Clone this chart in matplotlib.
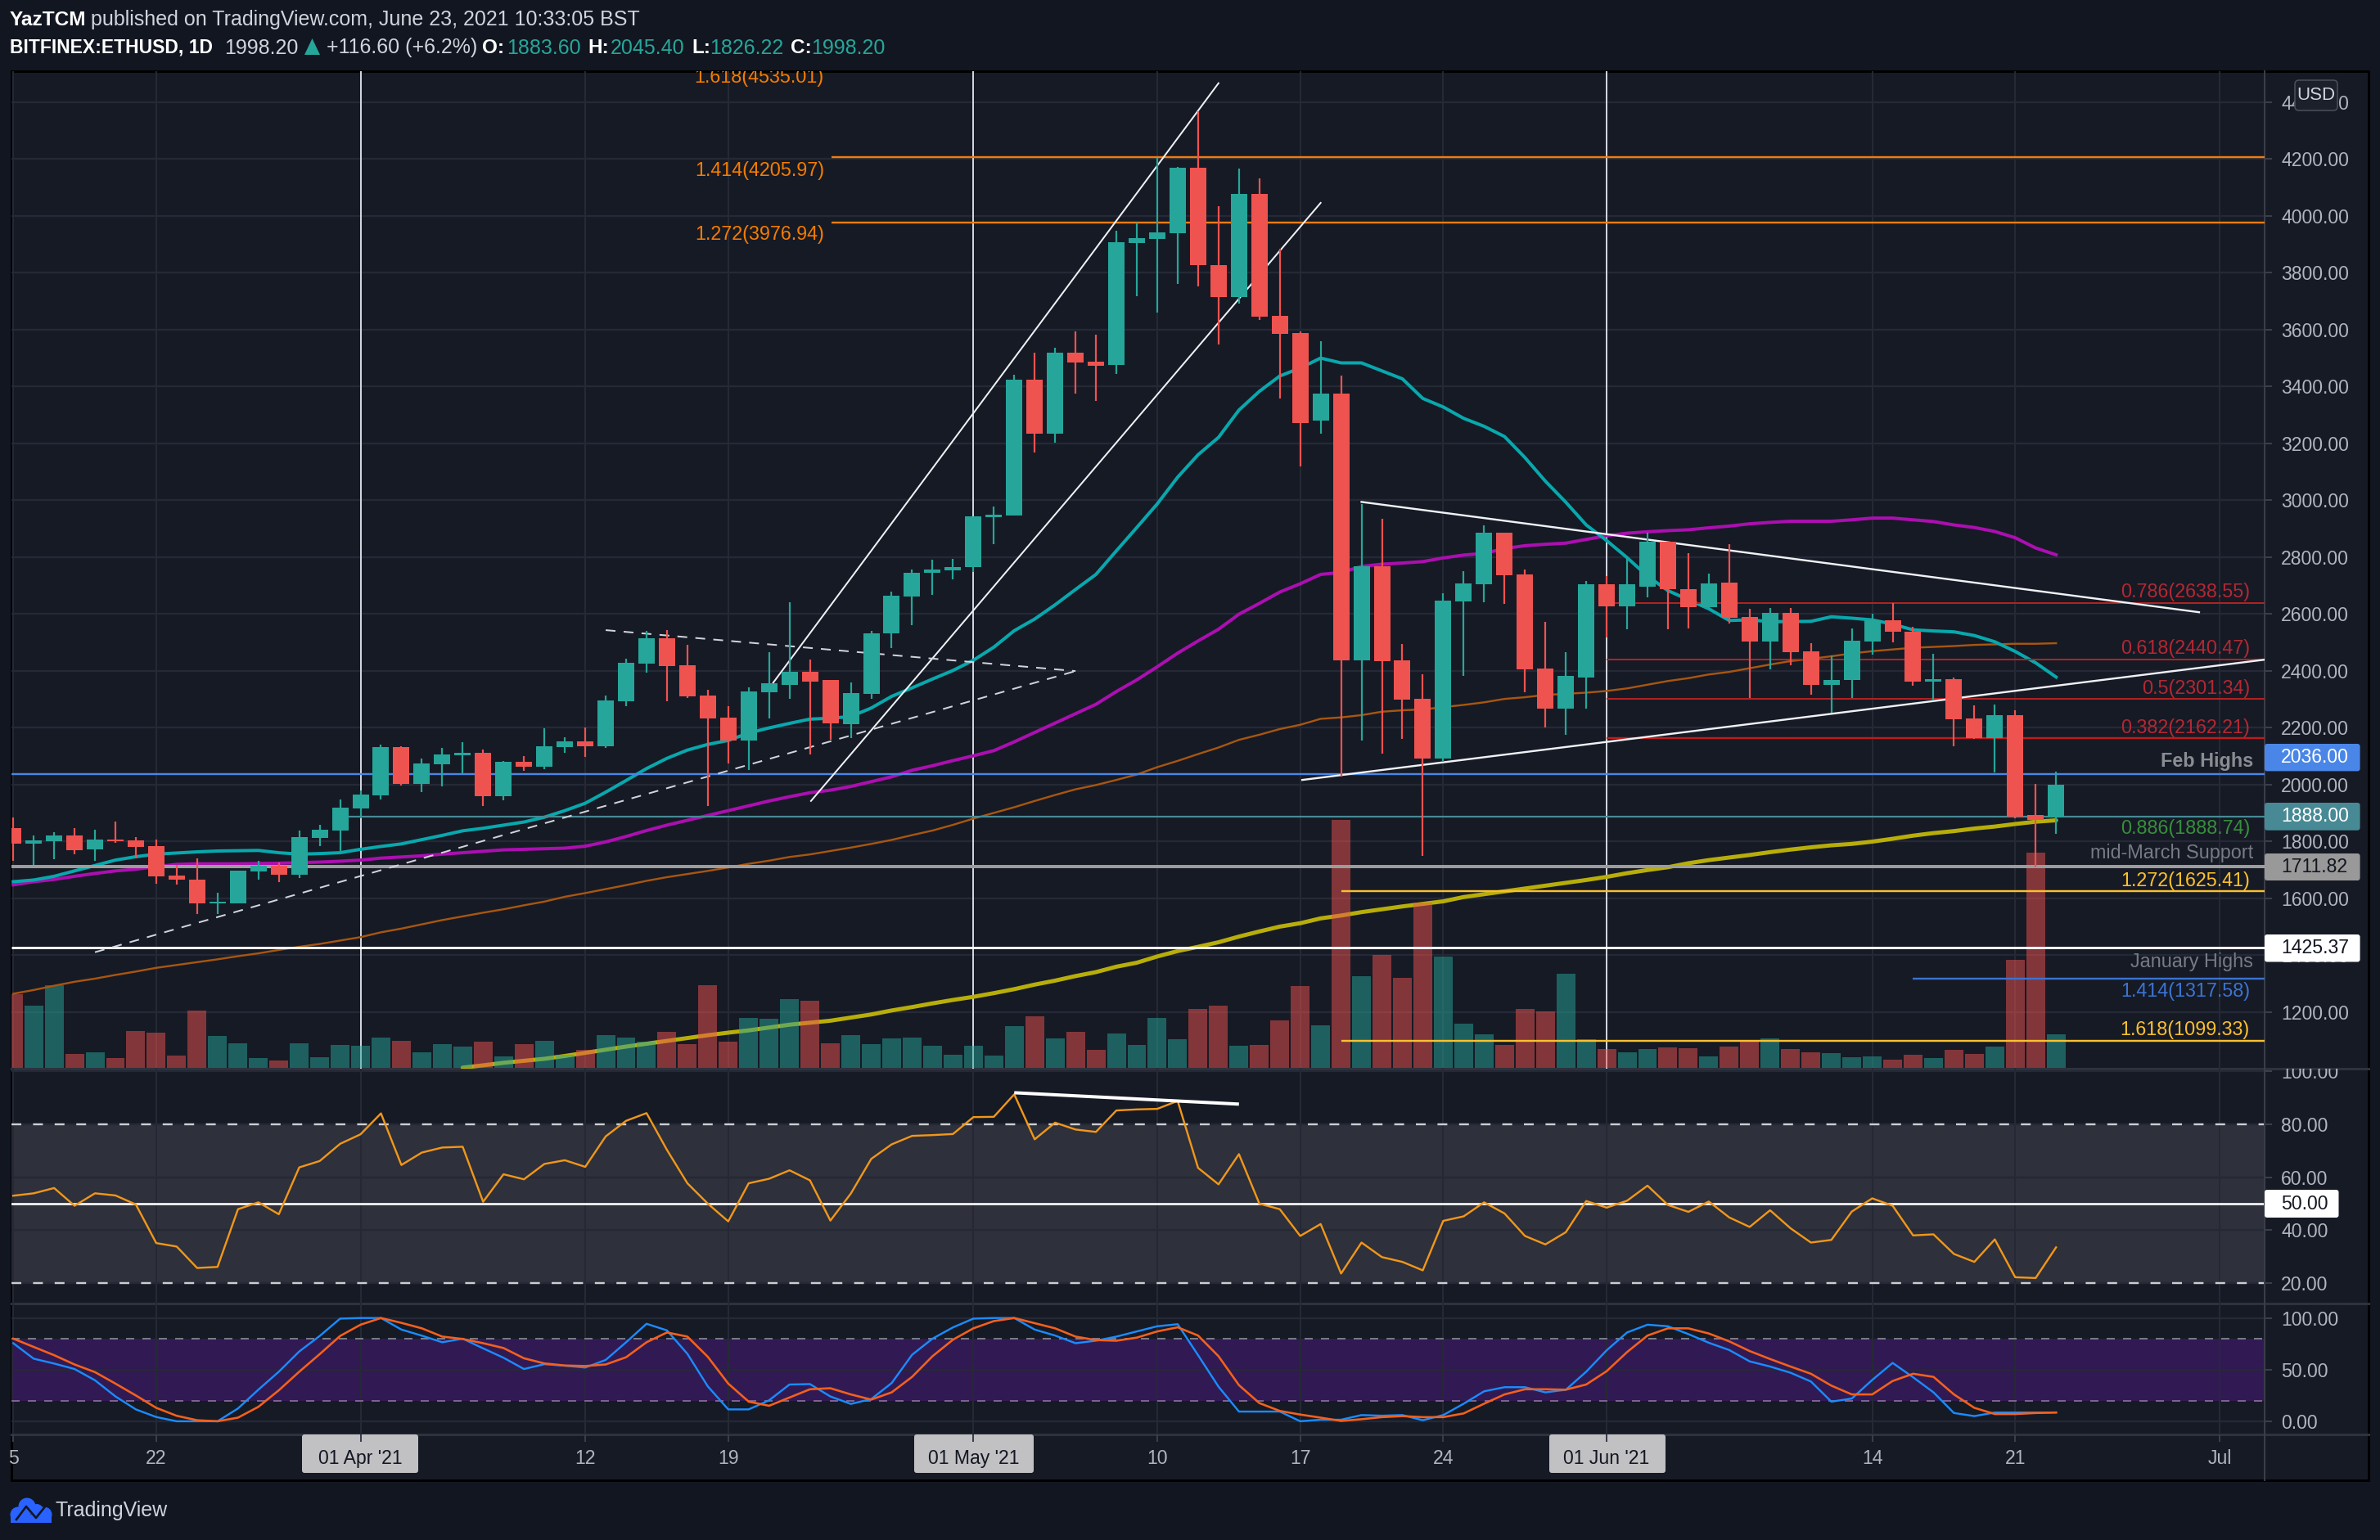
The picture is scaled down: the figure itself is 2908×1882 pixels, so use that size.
import matplotlib
matplotlib.use("Agg")
import matplotlib.pyplot as plt
from matplotlib.patches import Rectangle, FancyBboxPatch, Circle, Polygon
from matplotlib.lines import Line2D
from matplotlib.transforms import Affine2D, Bbox

plt.rcParams['font.family'] = ['Liberation Sans', 'DejaVu Sans']

# ---------- data, one entry per daily candle from 15 Mar 2021 ----------
opens = [1847,1793,1800,1821,1772,1807,1804,1783,1680,1666,1581,1582,1694,1713,1683,1813,1838,1916,1962,2131,
         2002,2071,2103,2112,1959,2080,2063,2131,2151,2134,2292,2424,2514,2418,2313,2234,2155,2324,2350,2396,
         2367,2212,2318,2531,2660,2744,2752,2764,2939,2945,3424,3234,3520,3488,3477,3904,3919,3939,4170,3827,
         3714,4077,3648,3589,3279,3376,2436,2769,2436,2301,2092,2644,2704,2885,2739,2407,2266,2375,2704,2628,
         2697,2853,2686,2623,2709,2588,2502,2605,2468,2350,2368,2502,2577,2538,2361,2370,2232,2164,2243,1893,1883.6]
highs = [1885,1821,1832,1846,1840,1869,1814,1806,1717,1740,1618,1697,1732,1726,1838,1857,1947,1980,2140,2134,
         2091,2129,2148,2124,2082,2099,2197,2166,2200,2313,2441,2541,2542,2490,2332,2275,2343,2465,2640,2439,
         2367,2358,2541,2678,2757,2792,2795,2942,2978,3440,3520,3536,3594,3581,3949,3977,4203,4173,4369,4034,
         4166,4132,3884,3594,3559,3439,2987,2936,2493,2387,2672,2749,2913,2887,2755,2572,2465,2715,2733,2798,
         2887,2855,2813,2741,2844,2617,2620,2620,2496,2454,2549,2600,2637,2554,2459,2377,2278,2280,2261,2002,2045.4]
lows = [1732,1717,1738,1755,1730,1794,1741,1652,1647,1543,1544,1582,1664,1658,1672,1783,1766,1880,1946,1996,
        1973,1993,2037,1925,1944,2048,2054,2112,2097,2130,2275,2394,2292,2304,1923,2075,2052,2232,2301,2107,
        2157,2164,2301,2479,2561,2668,2723,2747,2846,2945,3168,3201,3374,3350,3445,3718,3660,3761,3751,3548,
        3691,3634,3358,3119,3234,2028,2155,2108,2160,1749,2079,2382,2640,2635,2323,2201,2174,2266,2518,2545,
        2658,2545,2549,2618,2567,2304,2405,2419,2315,2252,2304,2456,2500,2347,2297,2134,2160,2042,1880,1707,1826.22]
closes = [1792,1804,1821,1770,1807,1800,1781,1677,1666,1582,1588,1697,1713,1683,1815,1841,1918,1965,2131,2002,
          2074,2106,2112,1959,2080,2063,2134,2151,2134,2295,2428,2514,2416,2309,2232,2155,2326,2356,2396,2362,
          2215,2321,2533,2663,2746,2756,2766,2942,2949,3424,3234,3520,3485,3473,3907,3922,3942,4170,3827,3714,
          4077,3647,3586,3272,3376,2436,2769,2433,2298,2092,2646,2706,2885,2735,2405,2266,2382,2704,2626,2704,
          2853,2686,2623,2706,2586,2502,2605,2465,2350,2368,2505,2579,2537,2361,2370,2229,2162,2243,1887,1876,1998.2]
volumes = [90,76,101,17,19,12,45,43,15,70,39,30,12,9,30,13,28,27,37,33,19,29,26,32,14,29,33,16,22,40,37,32,44,29,
           101,32,61,60,84,82,30,40,29,36,37,27,16,27,15,51,63,36,44,22,42,28,61,35,72,76,27,28,58,100,52,303,
           112,138,110,202,136,54,41,28,72,69,115,35,23,19,23,25,24,14,26,33,36,23,19,18,13,14,10,16,12,22,17,26,132,263,41]
ma20 = [1658,1664,1677,1696,1715,1734,1746,1755,1759,1763,1766,1767,1768,1760,1755,1757,1760,1772,1782,1791,
        1806,1821,1837,1846,1857,1868,1885,1908,1934,1973,2014,2056,2092,2121,2141,2155,2181,2199,2215,2230,
        2233,2239,2269,2310,2340,2371,2401,2437,2483,2541,2582,2632,2686,2739,2822,2904,2987,3081,3160,3221,
        3317,3383,3437,3465,3500,3483,3483,3455,3427,3358,3328,3288,3260,3224,3150,3067,2993,2913,2858,2798,
        2733,2682,2650,2618,2577,2579,2573,2573,2574,2590,2585,2579,2564,2544,2540,2537,2524,2502,2468,2428,2378]
ma50 = [1647,1658,1666,1677,1687,1696,1702,1711,1719,1721,1721,1721,1722,1723,1725,1727,1730,1734,1741,1745,
        1749,1755,1760,1765,1770,1772,1774,1776,1783,1798,1817,1838,1857,1874,1891,1908,1925,1942,1957,1971,
        1980,1993,2010,2027,2050,2066,2084,2101,2119,2150,2183,2216,2249,2282,2327,2368,2414,2462,2505,2546,
        2599,2637,2677,2706,2739,2746,2767,2775,2779,2784,2797,2807,2813,2830,2840,2845,2849,2862,2875,2884,
        2889,2893,2896,2903,2909,2917,2922,2926,2926,2926,2931,2937,2937,2931,2925,2913,2904,2890,2868,2832,2808]
ma100 = [1264,1277,1292,1306,1317,1330,1342,1355,1365,1375,1385,1396,1406,1418,1429,1439,1451,1463,1480,1493,
         1508,1523,1536,1549,1561,1575,1588,1605,1618,1632,1646,1661,1674,1685,1696,1708,1721,1732,1745,1754,
         1766,1778,1791,1805,1822,1838,1858,1880,1900,1920,1942,1963,1983,1998,2016,2035,2061,2083,2107,2130,
         2157,2175,2195,2210,2231,2236,2244,2256,2261,2264,2272,2280,2289,2301,2307,2315,2319,2323,2329,2338,
         2351,2364,2374,2387,2396,2409,2422,2434,2442,2451,2461,2469,2475,2481,2484,2487,2491,2493,2495,2495,2497]
ma200_days = list(range(22, 101))
ma200 = [1004,1012,1021,1028,1035,1045,1056,1067,1078,1088,1098,1108,1118,1127,1135,1145,1155,1162,
         1169,1180,1191,1205,1217,1230,1242,1253,1266,1280,1296,1310,1326,1340,1359,1373,1395,1414,1429,1445,
         1465,1483,1500,1512,1529,1539,1551,1561,1571,1580,1589,1604,1614,1624,1634,1644,1654,1664,1675,1688,
         1699,1709,1723,1734,1743,1752,1762,1771,1779,1786,1791,1799,1809,1820,1829,1836,1845,1852,1861,1869,1874]
rsi = [53,53.9,55.9,49.2,53.9,53.1,49.7,35.1,33.8,25.7,26.1,47.9,50.5,46,63.7,66.1,72.6,76.2,84.1,64.6,
       69.3,71.2,71.5,50.7,61.1,59.2,65,66.4,63.9,75.4,81.3,84.2,70.3,57.7,50,43.3,57.7,59.4,62.6,58.8,
       43.6,53.8,66.9,72.4,75.6,75.9,76.3,82.7,82.8,91.3,74.3,80.6,78,77.1,85.2,85.6,85.8,88.8,63.5,57.3,
       68.7,50,47.9,37.8,42.3,23.6,35.3,29.8,28,24.8,43.5,45.2,50.5,46.3,37.8,34.6,39.2,51,48.5,51.1,
       56.8,49.5,46.9,50.8,44.8,41.2,47.5,40.7,35.3,36.3,47,52,49.2,38,38.4,31,28,36.5,22.2,21.9,33.5]
stoch_k = [75.6,60.6,55.9,50.6,39.7,24.1,11.5,4.1,0,0,0,12.4,30.6,48,67.6,82.6,99.4,100,100,88.8,
           82.9,76.5,80,70.6,61.5,50.6,55.3,53.8,52,59.4,76.5,94.4,88,65.3,33.8,11.5,11.5,20.3,35.6,36,
           24,16.8,21.5,37,64.4,80,90.9,99.4,100,100,88.8,83,75.6,78,82,87,92,94,64,33.5,
           9.4,9.4,9.4,0,1.5,1.5,6,5.4,6,1,6,17,29,33,33,28,30.5,48,68.7,86,
           93.5,92,84.4,76,69,58,53,47,38.5,19,22,40,56.5,42.6,28,8,5,8.5,8.5,8.5,8.5]
stoch_d = [80,72,64,55,47.6,36.5,25,13,5.3,1,0,3.5,14,30,48,65,82.6,93.5,100,95.3,
           90,82,79.7,75.6,70.9,61,56,54,53.5,55,62,76.5,86,82,62.4,36.5,19,15,23,31,
           32,26,21,28,43,63,79,90,97,100,95,90,82,78.6,78,81,87,91,83,63,
           35,17.6,10,6.5,3.5,0.3,2,4,5,4,4,7.6,17,26,31,31,30.6,35.6,48.5,67,
           83,90,90,85,77.4,68,60.3,53,46,34.5,26,26,39,46,43,26,13,7,7,8,8.5]
price_ticks = [1200,1400,1600,1800,2000,2200,2400,2600,2800,3000,3200,3400,3600,3800,4000,4200,4400]
rsi_ticks = [20,40,60,80,100]
stoch_ticks = [0,50,100]
date_days = [0,7,17,28,35,47,56,63,70,78,91,98,108]
date_labels = ['5','22',"01 Apr '21",'12','19',"01 May '21",'10','17','24',"01 Jun '21",'14','21','Jul']

# ---------- layout ----------
W, H = 2908, 1882
pxT = Affine2D().scale(1, -1).translate(0, H)
OUTER, PANE = '#121620', '#161a25'
GRID = '#252935'
TICKC = '#b2b5be'
L, R = 14, 2767
T_MAIN, B_MAIN, B_RSI, B_ST, B_TIME, R_FRAME = 87, 1306, 1593, 1753, 1808.5, 2894
DAY0, PXDAY = 16.2, 24.96
P_Y2000, P_SCALE = 958.7, 0.3474
xlim = ((L - DAY0) / PXDAY, (R - DAY0) / PXDAY)

fig = plt.figure(figsize=(W / 100, H / 100), dpi=100, facecolor=OUTER)

def make_axes(top, bottom, z):
    a = fig.add_axes([L / W, 1 - bottom / H, (R - L) / W, (bottom - top) / H])
    a.set_xlim(xlim)
    a.set_zorder(z)
    a.patch.set_visible(False)
    return a

def pt(px):
    return px * 0.72

def price_at(y):
    return 2000 + (P_Y2000 - y) / P_SCALE

fig.add_artist(Rectangle((L, T_MAIN), R_FRAME - L, B_TIME - T_MAIN, transform=pxT, facecolor=PANE,
                         edgecolor='#000000', linewidth=pt(3), zorder=-5))

def style_y(a, ticks, labels):
    a.yaxis.tick_right()
    a.set_yticks(ticks)
    a.set_yticklabels(labels)
    a.tick_params(axis='y', length=pt(9), width=pt(2), color='#3a3e4a', pad=pt(11),
                  labelcolor=TICKC, labelsize=16.6)
    a.grid(axis='y', color=GRID, linewidth=pt(2.4), zorder=0)
    a.grid(axis='x', color=GRID, linewidth=pt(2), zorder=0)
    a.set_axisbelow(True)
    for s in a.spines.values():
        s.set_visible(False)
    a.spines['right'].set_visible(True)
    a.spines['right'].set_color('#3a3e4a')
    a.spines['right'].set_linewidth(pt(2))

# ---------- main pane, back layer ----------
ax = make_axes(T_MAIN, B_MAIN, 1)
ax.set_ylim(price_at(B_MAIN), price_at(T_MAIN))
style_y(ax, price_ticks, [f'{p:.2f}' for p in price_ticks])
ax.set_xticks(date_days)
ax.tick_params(axis='x', length=0, labelbottom=False)
ax.plot(ma200_days, ma200, color='#b8ae0a', lw=pt(5), zorder=3, solid_capstyle='round')
for d in (17, 47, 78):
    ax.axvline(d, color='#d1d4dc', lw=pt(2), zorder=2)

# ---------- volume layer ----------
axv = make_axes(T_MAIN, B_MAIN, 2)
axv.set_ylim(-1, B_MAIN - T_MAIN - 1)
axv.axis('off')
days = list(range(len(closes)))
UP, DOWN = '#26a69a', '#ef5350'
cols = [UP if c >= o else DOWN for o, c in zip(opens, closes)]
axv.bar(days, volumes, width=0.92, color=cols, alpha=0.5, linewidth=0)

# ---------- main pane, front layer ----------
axp = make_axes(T_MAIN, B_MAIN, 3)
axp.set_ylim(ax.get_ylim())
axp.axis('off')
axp.plot(days, ma100, color='#a8560f', lw=pt(2.4), zorder=2)
axp.plot(days, ma50, color='#ab0fb0', lw=pt(4), zorder=2.2)
axp.plot(days, ma20, color='#08a8ad', lw=pt(4), zorder=2.4)

def hline(level, start, color, px):
    axp.plot([start, xlim[1]], [level, level], color=color, lw=pt(px), zorder=2.6, solid_capstyle='butt')

hline(4205.97, 40.05, '#ef7c10', 2.4)
hline(3976.94, 40.05, '#ef7c10', 2.4)
hline(2638.55, 78, '#b22222', 2)
hline(2440.47, 78, '#b22222', 2)
hline(2301.34, 78, '#b22222', 2)
hline(2162.21, 78, '#c01b1b', 2.4)
hline(2036, xlim[0], '#4a86e8', 2.4)
hline(1888, 16.4, '#478a95', 2.2)
hline(1711.82, xlim[0], '#9c9c9c', 4)
hline(1625.41, 65, '#fbc02d', 2.4)
hline(1425.37, xlim[0], '#ffffff', 2.8)
hline(1317.58, 93, '#3a74d0', 2.4)
hline(1099.33, 65, '#fbc02d', 2.4)

WHITE = '#f0f2f5'
axp.plot([37.2, 59.0], [2358, 4467], color=WHITE, lw=pt(2), zorder=2.8)
axp.plot([39.05, 64.0], [1942, 4046], color=WHITE, lw=pt(2), zorder=2.8)
axp.plot([66.0, 107.0], [2994, 2606], color=WHITE, lw=pt(2.4), zorder=2.8)
axp.plot([63.1, 110.2], [2016, 2439], color=WHITE, lw=pt(2.4), zorder=2.8)
axp.plot([29, 52], [2543, 2399], color='#d1d4dc', lw=pt(2), ls=(0, (6, 5)), zorder=2.8)
axp.plot([4, 52], [1410, 2399], color='#d1d4dc', lw=pt(2), ls=(0, (6, 5)), zorder=2.8)

axp.vlines(days, lows, highs, colors=cols, linewidth=pt(2.2), zorder=4)
axp.bar(days, [abs(c - o) for o, c in zip(opens, closes)], bottom=[min(o, c) for o, c in zip(opens, closes)],
        width=0.8, color=cols, linewidth=0, zorder=5)

# ---------- RSI pane ----------
RSI80, RSI_SCALE = 1373.9, 3.235
axr = make_axes(B_MAIN, B_RSI, 2)
axr.set_ylim(80 - (B_RSI - RSI80) / RSI_SCALE, 80 + (RSI80 - B_MAIN) / RSI_SCALE)
style_y(axr, rsi_ticks, [f'{v:.2f}' for v in rsi_ticks])
axr.set_xticks(date_days)
axr.tick_params(axis='x', length=0, labelbottom=False)
clip = Bbox.from_extents(R, H - B_RSI, W, H - B_MAIN)
for lab in axr.get_yticklabels():
    lab.set_clip_on(True)
    lab.set_clip_box(clip)
axr.axhspan(20, 80, color='#2e303b', zorder=0.4, linewidth=0)
for v in (20, 80):
    axr.axhline(v, color='#cdced2', lw=pt(2.4), ls=(0, (5, 6)), zorder=2)
axr.axhline(50, color='#ffffff', lw=pt(2.6), zorder=2)
axr.plot(days, rsi, color='#f0971a', lw=pt(2.4), zorder=3)
axr.plot([49, 60], [91.9, 87.6], color='#ffffff', lw=pt(4), zorder=4, solid_capstyle='butt')

# ---------- Stochastic pane ----------
ST0, ST_SCALE = 1736.9, 1.262
axs = make_axes(B_RSI, B_ST, 2)
axs.set_ylim((ST0 - B_ST) / ST_SCALE, (ST0 - B_RSI) / ST_SCALE)
style_y(axs, stoch_ticks, [f'{v:.2f}' for v in stoch_ticks])
axs.axhspan(20, 80, color='#311a54', zorder=0.4, linewidth=0)
axs.axhline(80, color='#787b86', lw=pt(2), ls=(0, (5, 5)), zorder=2)
axs.axhline(20, color='#7d5f92', lw=pt(2), ls=(0, (5, 5)), zorder=2)
axs.plot(days, stoch_k, color='#1a8cff', lw=pt(2.4), zorder=3)
axs.plot(days, stoch_d, color='#f5601c', lw=pt(2.6), zorder=3.2)
axs.set_xticks(date_days)
axs.set_xticklabels(date_labels)
axs.tick_params(axis='x', length=pt(9), width=pt(2), color='#3a3e4a', pad=pt(9), labelcolor=TICKC, labelsize=16.6)
for lab, t, tick in zip(axs.get_xticklabels(), date_labels, axs.xaxis.get_major_ticks()):
    if t.startswith('01'):
        lab.set_color('#131722')
        tick.tick1line.set_color('#000000')

# date label boxes, below the axis (tick labels) of the stochastic pane
for x0, x1 in ((369, 511), (1117, 1263), (1893, 2035)):
    p = FancyBboxPatch((x0 + 3, B_ST + 3), x1 - x0 - 6, 41, boxstyle='round,pad=3,rounding_size=3',
                       facecolor='#c1c1c3', edgecolor='none', zorder=0.2, clip_on=False)
    axs.add_patch(p)
    p.set_transform(pxT)

# separators between panes
for y in (B_MAIN, B_RSI, B_ST):
    fig.add_artist(Line2D([L, R_FRAME], [y, y], transform=pxT, color='#2e323d', lw=pt(3), zorder=1))
fig.add_artist(Line2D([R, R], [B_ST, B_TIME], transform=pxT, color='#3a3e4a', lw=pt(2), zorder=1))

# ---------- overlay helpers ----------
def box(x0, y0, x1, y1, color, z=1.5):
    fig.add_artist(FancyBboxPatch((x0 + 3, y0 + 3), x1 - x0 - 6, y1 - y0 - 6, boxstyle='round,pad=3,rounding_size=3',
                                  transform=pxT, facecolor=color, edgecolor='none', zorder=z))

def label(x, y, s, color, size=16.8, ha='left', weight='normal', z=7):
    return fig.text(x, y, s, transform=pxT, color=color, fontsize=size, ha=ha, va='center',
                    fontweight=weight, zorder=z)

# price-scale boxes
for y0, y1, col, txt, tc in ((909, 942.4, '#4a86e8', '2036.00', '#ffffff'),
                             (981, 1014.7, '#478a95', '1888.00', '#ffffff'),
                             (1043, 1076, '#999999', '1711.82', '#131722'),
                             (1142, 1175.5, '#ffffff', '1425.37', '#131722')):
    box(R, y0, 2883.6, y1, col, z=6)
    label(2787, (y0 + y1) / 2, txt, tc, size=16.6)
box(R, 1454, 2857.5, 1488, '#ffffff', z=6)
label(2787, 1471, '50.00', '#131722', size=16.6)

# USD tag
fig.add_artist(FancyBboxPatch((2807, 101), 46, 31, boxstyle='round,pad=3,rounding_size=5', transform=pxT,
                              facecolor='#1c202b', edgecolor='#4a4e59', lw=pt(1.6), zorder=6))
label(2830, 117, 'USD', '#d1d4dc', size=16, ha='center')

# fib labels, right
for y, s, c in ((723.7, '0.786(2638.55)', '#b22833'), (792, '0.618(2440.47)', '#b22833'),
                (841.5, '0.5(2301.34)', '#b22833'), (889.7, '0.382(2162.21)', '#b22833'),
                (1012.5, '0.886(1888.74)', '#388e3c'), (1076.3, '1.272(1625.41)', '#fbc02d'),
                (1211.6, '1.414(1317.58)', '#3a74d0'), (1258, '1.618(1099.33)', '#fbc02d')):
    label(2749, y, s, c, ha='right')
label(2753, 930.8, 'Feb Highs', '#8a8c92', ha='right', weight='bold')
label(2753, 1042.9, 'mid-March Support', '#787b86', ha='right')
label(2753, 1175.9, 'January Highs', '#787b86', ha='right')

# fib labels, left
t = label(1007, 94.6, '1.618(4535.01)', '#f57c00', ha='right')
t.set_clip_box(Bbox.from_extents(0, H - B_MAIN, W, H - T_MAIN))
t.set_clip_on(True)
label(1007, 208, '1.414(4205.97)', '#f57c00', ha='right')
label(1007, 287, '1.272(3976.94)', '#f57c00', ha='right')

# header
HC = '#d1d4dc'
label(12, 24.5, 'YazTCM', '#ffffff', size=17.6, weight='bold')
label(111, 24.5, 'published on TradingView.com, June 23, 2021 10:33:05 BST', HC, size=18)
label(12, 58.5, 'BITFINEX:ETHUSD, 1D', '#ffffff', size=16.5, weight='bold')
label(274, 58.5, '1998.20', HC, size=18)
fig.add_artist(Polygon([[372, 67], [391, 67], [381.5, 47]], transform=pxT, facecolor=UP, edgecolor='none', zorder=7))
label(399, 58.5, '+116.60 (+6.2%)', HC, size=18)
for xa, a, xb, b in ((589.5, 'O:', 619, '1883.60'), (718, 'H:', 746, '2045.40'),
                     (845, 'L:', 867, '1826.22'), (966, 'C:', 991, '1998.20')):
    label(xa, 58.5, a, '#ffffff', size=17.5, weight='bold')
    label(xb, 58.5, b, UP, size=18)

# logo
LOGO = '#2962ff'
for cx, cy, r in ((33, 1841, 10.5), (22, 1851, 9.5), (54, 1851, 9.5), (45, 1846, 8)):
    fig.add_artist(Circle((cx, cy), r, transform=pxT, facecolor=LOGO, edgecolor='none', zorder=7))
fig.add_artist(Rectangle((13, 1851), 50, 9.5, transform=pxT, facecolor=LOGO, edgecolor='none', zorder=7))
fig.add_artist(Line2D([20, 32, 44, 56], [1857, 1841, 1855, 1840], transform=pxT, color=OUTER, lw=pt(2.6), zorder=8))
label(68, 1845.7, 'TradingView', HC, size=18)

fig.savefig('out.png', dpi=100, facecolor=OUTER)
